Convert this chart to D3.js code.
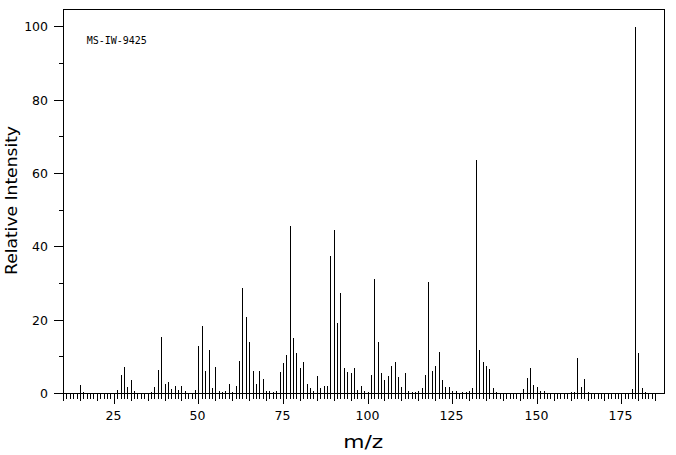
<!DOCTYPE html>
<html>
<head>
<meta charset="utf-8">
<script src="https://cdn.jsdelivr.net/npm/d3@7"></script>
<style>
  html, body { margin: 0; padding: 0; background: #fff; }
  svg { display: block; }
</style>
</head>
<body>
<script>
// m/z positions of the peaks
const mzValues = [
  15, 16, 26, 27, 28, 29, 30, 31, 36, 37, 38, 39, 40, 41, 42, 43, 44, 45, 46, 49,
  50, 51, 52, 53, 54, 55, 56, 57, 58, 59, 60, 61, 62, 63, 64, 65, 66, 67, 68, 69,
  70, 71, 72, 73, 74, 75, 76, 77, 78, 79, 80, 81, 82, 83, 84, 85, 86, 87, 88, 89,
  90, 91, 92, 93, 94, 95, 96, 97, 98, 99, 100, 101, 102, 103, 104, 105, 106, 107, 108, 109,
  110, 111, 112, 113, 114, 115, 116, 117, 118, 119, 120, 121, 122, 123, 124, 125, 126, 128, 129, 130,
  131, 132, 133, 134, 135, 136, 137, 138, 146, 147, 148, 149, 150, 151, 152, 160, 161, 162, 163, 164,
  165, 178, 179, 180, 181, 182
];
// relative intensities (%) of the peaks
const intensities = [
  2.3, 0.5, 0.9, 5.0, 7.2, 1.7, 3.6, 0.6, 0.4, 1.7, 6.4, 15.4, 2.5, 3.1, 1.2, 2.0, 0.9, 2.0, 0.6, 0.9,
  12.9, 18.4, 6.1, 11.8, 1.5, 7.2, 0.6, 0.4, 0.6, 2.5, 0.4, 2.0, 8.8, 28.7, 20.8, 14.0, 6.1, 2.5, 6.1, 3.9,
  0.6, 0.6, 0.4, 0.6, 5.8, 8.4, 10.5, 45.6, 15.1, 11.1, 6.9, 8.5, 2.5, 1.5, 0.6, 4.7, 1.5, 2.0, 2.0, 37.5,
  44.5, 19.3, 27.4, 6.9, 5.8, 5.5, 6.9, 0.9, 2.0, 0.7, 0.4, 5.0, 31.2, 14.0, 5.5, 3.6, 4.7, 7.5, 8.5, 4.5,
  1.7, 5.5, 0.6, 0.4, 0.4, 0.6, 1.5, 5.0, 30.4, 6.1, 7.5, 11.3, 3.6, 1.7, 1.7, 0.6, 0.6, 0.4, 0.5, 0.7,
  1.6, 63.6, 11.8, 8.5, 7.4, 6.6, 1.4, 0.4, 1.2, 4.2, 6.9, 2.3, 1.7, 0.6, 0.6, 0.4, 0.4, 9.6, 1.7, 3.9,
  0.4, 1.2, 100, 11.0, 1.5, 0.4
];
const xTickLabels = [25, 50, 75, 100, 125, 150, 175];
const yTickLabels = [0, 20, 40, 60, 80, 100];
const xMinorTicks = d3.range(10, 186, 1);
const yMinorTicks = d3.range(0, 101, 10);
const sampleId = "MS-IW-9425";
const xTitle = "m/z";
const yTitle = "Relative Intensity";

const W = 676, H = 455;
const svg = d3.select("body").append("svg").attr("width", W).attr("height", H);

const x = d3.scaleLinear().domain([10, 187.6]).range([63.5, 664.5]);
const y = d3.scaleLinear().domain([0, 104.75]).range([393.5, 9.5]);

const crisp = v => Math.floor(v) + 0.5;

// frame
svg.append("rect")
  .attr("x", 63.5).attr("y", 9.5)
  .attr("width", 601).attr("height", 384)
  .attr("fill", "none").attr("stroke", "#000").attr("stroke-width", 1)
  .attr("shape-rendering", "crispEdges");

// x axis
const xAxis = d3.axisBottom(x)
  .tickValues(xMinorTicks)
  .tickSize(5)
  .tickPadding(0)
  .tickFormat(d => xTickLabels.includes(d) ? d : "");
const gx = svg.append("g").attr("transform", "translate(0,393.5)").call(xAxis);
gx.select(".domain").remove();
gx.selectAll(".tick").attr("transform", d => `translate(${crisp(x(d))},0)`);
gx.selectAll(".tick line")
  .attr("stroke", "#000")
  .attr("shape-rendering", "crispEdges")
  .attr("y2", d => d % 25 === 0 ? 10 : (d % 5 === 0 ? 7 : 5));
gx.selectAll(".tick text")
  .attr("x", -1)
  .attr("y", 26).attr("dy", 0)
  .attr("fill", "#000")
  .style("font-family", "'DejaVu Sans', sans-serif")
  .style("font-size", "12.5px");

// y axis
const yAxis = d3.axisLeft(y)
  .tickValues(yMinorTicks)
  .tickSize(5)
  .tickFormat(d => yTickLabels.includes(d) ? d : "");
const gy = svg.append("g").attr("transform", "translate(63.5,0)").call(yAxis);
gy.select(".domain").remove();
gy.selectAll(".tick").attr("transform", d => `translate(0,${crisp(y(d))})`);
gy.selectAll(".tick line")
  .attr("stroke", "#000")
  .attr("shape-rendering", "crispEdges")
  .attr("x2", d => yTickLabels.includes(d) ? -10 : -5);
gy.selectAll(".tick text")
  .attr("x", -15.5).attr("dy", "0.36em")
  .attr("fill", "#000")
  .style("font-family", "'DejaVu Sans', sans-serif")
  .style("font-size", "12.5px");

// bars (stick spectrum)
const peaks = mzValues.map((m, i) => ({ mz: m, v: intensities[i] }));
svg.append("g")
  .selectAll("line")
  .data(peaks)
  .join("line")
  .attr("x1", d => crisp(x(d.mz)))
  .attr("x2", d => crisp(x(d.mz)))
  .attr("y1", y(0))
  .attr("y2", d => y(d.v))
  .attr("stroke", "#000")
  .attr("stroke-width", 1)
  .attr("shape-rendering", "crispEdges");

// annotation
svg.append("text")
  .attr("x", 86.7).attr("y", 44.3)
  .style("font-family", "'DejaVu Sans Mono', monospace")
  .style("font-size", "10px")
  .attr("fill", "#000")
  .text(sampleId);

// axis titles
svg.append("text")
  .attr("x", 363.3).attr("y", 448.3)
  .attr("text-anchor", "middle")
  .attr("textLength", 40).attr("lengthAdjust", "spacingAndGlyphs")
  .style("font-family", "'DejaVu Sans', sans-serif")
  .style("font-size", "17px")
  .attr("fill", "#000")
  .text(xTitle);

svg.append("text")
  .attr("transform", "translate(16.5,200.5) rotate(-90)")
  .attr("text-anchor", "middle")
  .attr("textLength", 149).attr("lengthAdjust", "spacingAndGlyphs")
  .style("font-family", "'DejaVu Sans', sans-serif")
  .style("font-size", "16px")
  .attr("fill", "#000")
  .text(yTitle);
</script>
</body>
</html>
